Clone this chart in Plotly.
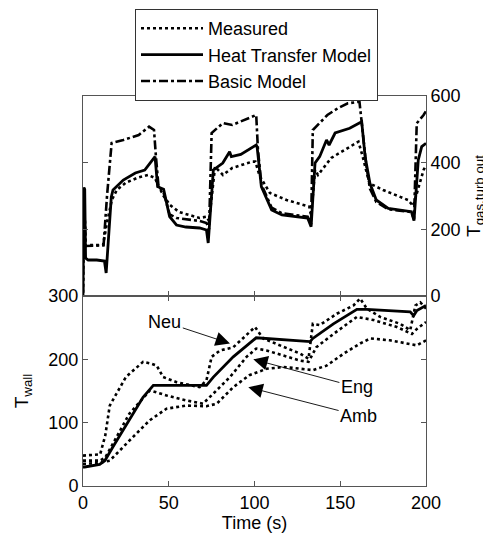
import plotly.graph_objects as go

# ---------------- data: top panel (T_gas,turb out) ----------------
top_meas_t = [0, 0.5, 1.5, 4, 11.7, 14, 16.8, 19.7, 25, 32, 38, 42, 44, 47, 50.7, 56, 68, 72, 73.5,
              77, 81.6, 87, 98.6, 100.5, 103, 109, 118.7, 132, 133, 135.3, 137, 144.7, 152.5, 160.6,
              163, 167, 175, 189.5, 192.5, 198.6, 200]
top_meas_v = [10, 325, 150, 153, 153, 220, 288, 318, 340, 355, 363, 354, 330, 300, 273, 252, 234, 238, 225,
              388, 363, 384, 403, 403, 360, 309, 288, 268, 240, 378, 363, 414, 438, 463,
              420, 338, 318, 288, 270, 378, 393]

top_htm_t = [0, 0.5, 1.0, 1.5, 3, 8, 12.5, 13.5, 16.5, 17.5, 23.5, 30.5, 36, 42, 43.5, 47, 50.5, 54.5, 60,
             68, 72, 73, 76, 81.5, 85.5, 86.5, 92, 101, 101.5, 104, 110, 116, 131, 133, 135.3, 138, 142,
             143.5, 147, 155.5, 162.5, 164.5, 167.3, 171, 178, 191.5, 193, 195.5, 197.5, 200]
top_htm_v = [0, 325, 320, 114, 108, 108, 105, 69, 297, 318, 348, 369, 378, 418, 328, 320, 238, 213, 207,
             204, 198, 159, 378, 399, 433, 418, 425, 453, 448, 328, 258, 243, 234, 208, 399, 418, 468,
             453, 489, 503, 523, 418, 338, 288, 263, 253, 226, 408, 448, 458]

top_basic_t = [0, 0.5, 1.5, 4, 12, 14, 16.7, 23.5, 32.5, 38.5, 41.4, 42.5, 44, 47, 50.5, 54.6, 68, 72, 73.5,
               75, 81.6, 87, 97, 101, 102, 104, 110, 116, 131, 133, 134, 142.5, 148.5, 154.4, 161.2,
               163, 165, 167.3, 171, 178, 191.5, 193, 194.6, 198.6, 200]
top_basic_v = [10, 325, 150, 150, 152, 300, 459, 468, 483, 508, 498, 420, 330, 310, 245, 234, 225, 219, 200,
               489, 519, 513, 534, 543, 440, 335, 265, 248, 238, 215, 498, 543, 563, 578, 583,
               500, 400, 322, 282, 260, 252, 230, 518, 543, 555]

# ---------------- data: bottom panel (T_wall) ----------------
wall_htm_t = [0, 1, 9.7, 12.7, 17.5, 29, 35, 41, 72, 76, 87.6, 101, 107, 132.4, 134, 146, 159.7, 165.5,
              190.8, 192.8, 194.7, 200]
wall_htm_v = [30, 30, 34, 40, 62, 114, 140, 159, 159, 172, 204, 234, 233, 228, 233, 256, 279, 279,
              275, 269, 277, 285]

wall_neu_t = [0, 10, 13, 15.6, 25, 35, 40, 43, 46.7, 54.5, 68, 72, 75, 80, 87.6, 95.4, 100.3, 105, 117,
              126.6, 131.5, 134, 138, 148, 157.7, 161.6, 165.5, 173.3, 185, 190.8, 193.8, 196.7, 200]
wall_neu_v = [48, 50, 80, 127, 172, 196, 193, 190, 172, 164, 156, 167, 204, 214, 219, 238, 251, 233, 219,
              209, 201, 256, 254, 272, 285, 296, 280, 267, 256, 246, 285, 290, 280]

wall_eng_t = [0, 10, 13, 17, 27, 39, 48.7, 60.4, 70, 76, 85.7, 95.4, 101, 107, 117, 126.6, 131.5, 136,
              146, 159.7, 169.4, 183, 191.8, 194.7, 200]
wall_eng_v = [40, 40, 45, 65, 114, 151, 143, 135, 130, 146, 172, 204, 217, 214, 206, 198, 196, 219,
              240, 267, 262, 251, 240, 248, 259]

wall_amb_t = [0, 8, 15.6, 22, 29, 39, 48.7, 60, 72, 78, 87.6, 97, 107, 117, 126.6, 134, 142, 152, 161.6,
              167.5, 179, 189, 194.7, 200]
wall_amb_v = [35, 36, 40, 58, 77, 104, 122, 127, 126, 130, 156, 175, 185, 188, 185, 183, 190, 209, 225,
              233, 230, 225, 222, 230]

series_names = ["Measured", "Heat Transfer Model", "Basic Model"]
x_ticks = [0, 50, 100, 150, 200]
top_y_ticks = [0, 200, 400, 600]
wall_y_ticks = [0, 100, 200, 300]

FONT = "Liberation Sans, Arial, sans-serif"
AX = "#555555"

dot = dict(color="black", dash="dot", width=2.6)
solid = dict(color="black", width=2.8)
dashdot = dict(color="black", dash="dashdot", width=2.6)

fig = go.Figure()
# top
fig.add_trace(go.Scatter(x=top_meas_t, y=top_meas_v, mode="lines", line=dot, name=series_names[0],
                         legendgroup="g1", xaxis="x", yaxis="y"))
fig.add_trace(go.Scatter(x=top_htm_t, y=top_htm_v, mode="lines", line=solid, name=series_names[1],
                         legendgroup="g2", xaxis="x", yaxis="y"))
fig.add_trace(go.Scatter(x=top_basic_t, y=top_basic_v, mode="lines", line=dashdot, name=series_names[2],
                         legendgroup="g3", xaxis="x", yaxis="y"))
# bottom
for tt, vv in [(wall_neu_t, wall_neu_v), (wall_eng_t, wall_eng_v), (wall_amb_t, wall_amb_v)]:
    fig.add_trace(go.Scatter(x=tt, y=vv, mode="lines", line=dot, showlegend=False,
                             legendgroup="g1", xaxis="x2", yaxis="y2"))
fig.add_trace(go.Scatter(x=wall_htm_t, y=wall_htm_v, mode="lines", line=solid, showlegend=False,
                         legendgroup="g2", xaxis="x2", yaxis="y2"))

# page body has an 8px margin: the figure is sized/offset to compensate
W, H = 483, 528
ML, MR, MT, MB = 75, 65, 88, 50
plot_h = H - MT - MB
plot_w = W - ML - MR
split = 190 / plot_h
common = dict(showline=True, linecolor=AX, linewidth=1, mirror="ticks", ticks="inside",
              ticklen=5, tickcolor=AX, showgrid=False, zeroline=False,
              tickfont=dict(size=18, color="black", family=FONT))

fig.update_layout(
    width=W, height=H,
    margin=dict(l=ML, r=MR, t=MT, b=MB, autoexpand=False),
    paper_bgcolor="white", plot_bgcolor="white",
    font=dict(family=FONT, size=18, color="black"),
    xaxis=dict(domain=[0, 1], anchor="y", range=[0, 200], tickvals=[50, 100, 150],
               showticklabels=False, **common),
    yaxis=dict(domain=[split, 1], anchor="x", range=[0, 600], tickvals=top_y_ticks, side="right",
               title=dict(text="T<sub>gas,turb out</sub>", standoff=7, font=dict(size=19)), **common),
    xaxis2=dict(domain=[0, 1], anchor="y2", range=[0, 200], tickvals=x_ticks,
                title=dict(text="Time (s)", standoff=0, font=dict(size=18)), **common),
    yaxis2=dict(domain=[0, split], anchor="x2", range=[0, 300], tickvals=wall_y_ticks,
                title=dict(text="T<sub>wall</sub>", standoff=14, font=dict(size=19)), **common),
    legend=dict(x=(127 - ML) / plot_w, y=(plot_h + MT - 1) / plot_h, xanchor="left", yanchor="top",
                bordercolor="#333333", borderwidth=1, bgcolor="white",
                font=dict(size=18, family=FONT), itemwidth=62, tracegroupgap=0,
                traceorder="grouped"),
    showlegend=True,
)

ann_style = dict(xref="x2", yref="y2", axref="x2", ayref="y2", showarrow=True,
                 arrowhead=2, arrowsize=3.2, arrowwidth=0.9, arrowcolor="black",
                 font=dict(size=18, family=FONT, color="black"))
fig.add_annotation(x=85.7, y=225, ax=47.7, ay=259, text="Neu", **ann_style)
fig.add_annotation(x=99.3, y=200, ax=159.7, ay=156, text="Eng", **ann_style)
fig.add_annotation(x=96.4, y=156, ax=160.7, ay=111, text="Amb", **ann_style)

fig.write_html("out.html")
